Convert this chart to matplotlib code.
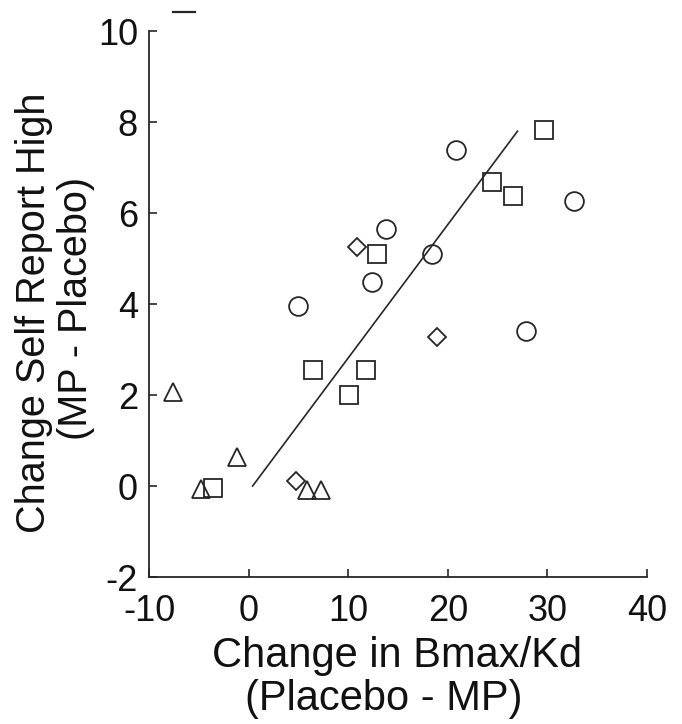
import matplotlib
matplotlib.use('Agg')
import matplotlib.pyplot as plt
from matplotlib.lines import Line2D

plt.rcParams['font.family'] = ['Liberation Sans', 'DejaVu Sans']
plt.rcParams['axes.unicode_minus'] = False

# values
circle_x = [5.0, 12.4, 13.8, 18.4, 20.8, 27.9, 32.7]
circle_y = [3.96, 4.48, 5.66, 5.09, 7.38, 3.41, 6.27]
square_x = [-3.6, 6.5, 10.1, 11.8, 12.9, 24.4, 26.5, 29.7]
square_y = [-0.04, 2.55, 2.0, 2.55, 5.09, 6.69, 6.37, 7.82]
diamond_x = [4.8, 10.9, 18.9]
diamond_y = [0.12, 5.25, 3.28]
triangle_x = [-7.6, -4.8, -1.2, 5.9, 7.3]
triangle_y = [2.07, -0.07, 0.64, -0.09, -0.09]
fit_x = [0.4, 27.0]
fit_y = [0.0, 7.8]

x_ticks = [-10, 0, 10, 20, 30, 40]
y_ticks = [-2, 0, 2, 4, 6, 8, 10]

ink = '#262626'

fig = plt.figure(figsize=(6.82, 7.24), dpi=100)
fig.patch.set_facecolor('white')
ax = fig.add_axes([0.2185, 0.2030, 0.7302, 0.7541])

ax.plot(fit_x, fit_y, color=ink, linewidth=1.2, zorder=2)

mk = dict(linestyle='none', mfc='none', mec=ink, mew=1.3, zorder=3)
ax.plot(circle_x, circle_y, marker='o', ms=13.5, **mk)
ax.plot(square_x, square_y, marker='s', ms=13.0, **mk)
ax.plot(diamond_x, diamond_y, marker='D', ms=8.8, **mk)
ax.plot(triangle_x, triangle_y, marker='^', ms=13.5, **mk)

ax.set_xlim(-10, 40)
ax.set_ylim(-2, 10)
ax.set_xticks(x_ticks)
ax.set_yticks(y_ticks)
ax.set_xticklabels([str(v) for v in x_ticks])
ax.set_yticklabels([str(v) for v in y_ticks])

for s in ['top', 'right']:
    ax.spines[s].set_visible(False)
for s in ['left', 'bottom']:
    ax.spines[s].set_linewidth(1.3)
    ax.spines[s].set_color(ink)

ax.tick_params(axis='both', direction='in', length=6, width=1.2,
               colors=ink, labelsize=26, labelcolor='#111111')
ax.tick_params(axis='x', pad=12)
ax.tick_params(axis='y', pad=8)

# axis titles, each line placed on its own
fig.text(0.582, 0.0787, 'Change in Bmax/Kd', ha='center', va='baseline',
         fontsize=30, color='#111111')
fig.text(0.563, 0.0193, '(Placebo - MP)', ha='center', va='baseline',
         fontsize=30, color='#111111')
fig.text(0.050, 0.5677, 'Change Self Report High', rotation=90,
         ha='center', va='center', fontsize=28.5, color='#111111')
fig.text(0.1115, 0.5746, '(MP - Placebo)', rotation=90,
         ha='center', va='center', fontsize=28.5, color='#111111')

# small stray dash at the top of the scan
fig.add_artist(Line2D([0.254, 0.286], [0.983, 0.983], transform=fig.transFigure,
                      color=ink, linewidth=1.6))

fig.savefig('out.png', dpi=100, facecolor='white')
